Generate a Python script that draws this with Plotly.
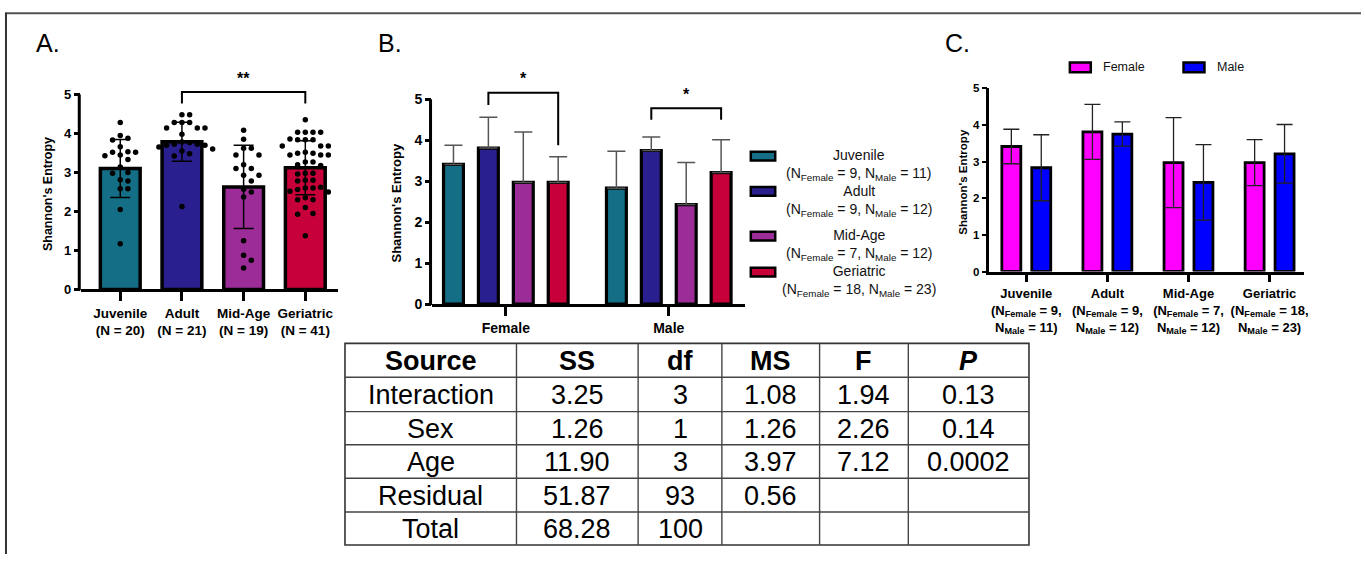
import numpy as np
import plotly.graph_objects as go

W, H = 1365, 562
FONT = "Liberation Sans, Arial, sans-serif"

# ---------------- data ----------------
ages = ["Juvenile", "Adult", "Mid-Age", "Geriatric"]
age_colors = ["#146F86", "#2A1F8E", "#9B2C98", "#C8003A"]
a_n = [20, 21, 19, 41]
a_mean = [3.10, 3.79, 2.63, 3.12]
a_sd = [0.745, 0.50, 1.07, 0.69]

juv_pts = [4.28, 3.95, 3.88, 3.83, 3.66, 3.53, 3.52, 3.52, 3.45, 3.43, 3.33, 3.14,
           3.00, 2.98, 2.81, 2.78, 2.58, 2.58, 2.05, 1.17]
adult_pts = [4.48, 4.48, 4.28, 4.28, 4.28, 4.14, 4.14, 4.14, 3.98, 3.78, 3.76, 3.72,
             3.72, 3.70, 3.70, 3.65, 3.60, 3.55, 3.48, 3.42, 2.13]
mid_pts = [4.08, 3.85, 3.62, 3.62, 3.45, 3.45, 3.20, 3.10, 3.10, 2.93, 2.93, 2.78,
           2.57, 2.50, 2.37, 1.25, 0.88, 0.75, 0.55]
geri_pts = [4.35, 4.03, 4.03, 4.03, 4.03, 3.84, 3.84, 3.84, 3.86, 3.68, 3.68, 3.68,
            3.52, 3.49, 3.45, 3.45, 3.45, 3.49, 3.27, 3.27, 3.20, 3.18, 2.98, 2.98,
            2.96, 2.80, 2.78, 2.80, 2.60, 2.62, 2.60, 2.56, 2.50, 2.52, 2.30, 2.30,
            2.35, 2.10, 1.95, 1.93, 1.38]
a_points = [juv_pts, adult_pts, mid_pts, geri_pts]

sexes = ["Female", "Male"]
sex_colors = ["#FF00FF", "#0000FF"]
n_female = [9, 9, 7, 18]
n_male = [11, 12, 12, 23]
f_mean = [3.41, 3.81, 2.97, 2.97]
f_sd = [0.47, 0.75, 1.23, 0.63]
m_mean = [2.83, 3.75, 2.43, 3.21]
m_sd = [0.90, 0.33, 1.03, 0.80]

table_header = ["Source", "SS", "df", "MS", "F", "P"]
table_source = ["Interaction", "Sex", "Age", "Residual", "Total"]
table_ss = ["3.25", "1.26", "11.90", "51.87", "68.28"]
table_df = ["3", "1", "3", "93", "100"]
table_ms = ["1.08", "1.26", "3.97", "0.56", ""]
table_f = ["1.94", "2.26", "7.12", "", ""]
table_p = ["0.13", "0.14", "0.0002", "", ""]
table_columns = [table_source, table_ss, table_df, table_ms, table_f, table_p]

# ---------------- layout geometry (pixels) ----------------
def px(x):
    return x / W


def py(y):
    return 1 - y / H


A_X0, A_X1, A_Y0, A_PPU, A_TOP = 81, 339, 290.7, 40, 5.6
B_X0, B_X1, B_Y0, B_PPU, B_TOP = 433.3, 746.7, 305.7, 42, 5.6
C_X0, C_X1, C_Y0, C_PPU, C_TOP = 992.3, 1308.3, 272.3, 37.6, 5.0

A_XR = [-0.64, 3.53]
B_XR = [-0.453, 1.465]
C_XR = [-0.455, 3.43]

# B grouping
B_GAP, B_GGAP = 0.143, 0.43
B_SLOT = (1 - B_GAP) / len(ages)
B_W = B_SLOT * (1 - B_GGAP)
C_GAP, C_GGAP = 0.262, 0.366
C_SLOT = (1 - C_GAP) / len(sexes)
C_W = C_SLOT * (1 - C_GGAP)

# table geometry
T_COL_EDGES = [346, 518, 640, 724, 822, 911, 1032]
T_ROW_EDGES = [346, 380.7, 416, 450, 484.3, 519, 552.7]


def b_center(i):
    return -0.5 * B_SLOT * len(ages) + (i + 0.5) * B_SLOT


def c_center(i):
    return -0.5 * C_SLOT * len(sexes) + (i + 0.5) * C_SLOT


def swarm(vals, xppu, yppu, step=7.7, mind=7.2):
    vals = np.asarray(vals, dtype=float)
    order = np.argsort(-vals, kind="stable")
    placed = []
    offs = np.zeros(len(vals))
    cands = [0.0]
    for j in range(1, 12):
        cands += [j * step, -j * step]
    for i in order:
        yv = vals[i] * yppu
        chosen = cands[-1]
        for c in cands:
            if all((c - p0) ** 2 + (yv - p1) ** 2 >= mind ** 2 for p0, p1 in placed):
                chosen = c
                break
        placed.append((chosen, yv))
        offs[i] = chosen / xppu
    return offs


fig = go.Figure()

# ---------------- Panel A ----------------
a_xppu = (A_X1 - A_X0) / (A_XR[1] - A_XR[0])
fig.add_trace(go.Bar(
    x=list(range(len(ages))), y=a_mean, width=0.645,
    marker=dict(color=age_colors, line=dict(color="black", width=3.5)),
    error_y=dict(type="data", array=a_sd, visible=True, color="black",
                 thickness=1.5, width=10),
    xaxis="x", yaxis="y", showlegend=False))
for i, pts in enumerate(a_points):
    offs = swarm(pts, a_xppu, A_PPU)
    fig.add_trace(go.Scatter(
        x=[i + o for o in offs], y=pts, mode="markers",
        marker=dict(color="black", size=5.5), xaxis="x", yaxis="y",
        showlegend=False))
ia, ig = ages.index("Adult"), ages.index("Geriatric")
fig.add_trace(go.Scatter(x=[ia, ia, ig, ig], y=[4.77, 5.06, 5.06, 4.77], mode="lines",
                         line=dict(color="black", width=2), xaxis="x", yaxis="y",
                         showlegend=False))

# ---------------- Panel B ----------------
for i, age in enumerate(ages):
    fig.add_trace(go.Bar(
        x=[0, 1], y=[f_mean[i], m_mean[i]],
        offset=b_center(i) - B_W / 2, width=B_W,
        marker=dict(color=age_colors[i], line=dict(color="black", width=3.2)),
        error_y=dict(type="data", symmetric=False, array=[f_sd[i], m_sd[i]],
                     arrayminus=[0, 0], visible=True, color="#555", thickness=1.5,
                     width=9),
        xaxis="x2", yaxis="y2", showlegend=False))
fig.add_trace(go.Scatter(
    x=[0 + b_center(ia), 0 + b_center(ia), 0 + b_center(ig), 0 + b_center(ig)],
    y=[4.86, 5.16, 5.16, 3.88], mode="lines", line=dict(color="black", width=2),
    xaxis="x2", yaxis="y2", showlegend=False))
fig.add_trace(go.Scatter(
    x=[1 + b_center(ia), 1 + b_center(ia), 1 + b_center(ig), 1 + b_center(ig)],
    y=[4.50, 4.78, 4.78, 4.50], mode="lines", line=dict(color="black", width=2),
    xaxis="x2", yaxis="y2", showlegend=False))

# ---------------- Panel C ----------------
for j, (sx, mean, sd) in enumerate([("Female", f_mean, f_sd), ("Male", m_mean, m_sd)]):
    fig.add_trace(go.Bar(
        x=list(range(len(ages))), y=mean,
        offset=c_center(j) - C_W / 2, width=C_W,
        marker=dict(color=sex_colors[j], line=dict(color="black", width=2.8)),
        error_y=dict(type="data", array=sd, visible=True, color="#222",
                     thickness=1.3, width=8),
        xaxis="x3", yaxis="y3", showlegend=False))

# ---------------- axes ----------------
tickf = lambda s: dict(family=FONT, size=s, color="black", weight="bold")

layout_axes = dict(
    xaxis=dict(domain=[px(A_X0), px(A_X1)], range=A_XR, anchor="y",
               tickvals=list(range(len(ages))),
               ticktext=[f"{a}<br>(N = {n})" for a, n in zip(ages, a_n)],
               showline=True, linecolor="black", linewidth=3, ticks="outside",
               ticklen=9, tickwidth=2.5, tickcolor="black", tickfont=tickf(13.5),
               showgrid=False, zeroline=False),
    yaxis=dict(domain=[py(A_Y0), py(A_Y0 - A_TOP * A_PPU)], range=[0, A_TOP], anchor="x",
               tickvals=[0, 1, 2, 3, 4, 5], showline=False, ticks="outside", ticklen=6,
               tickwidth=2.5, tickcolor="black", tickfont=tickf(13), showgrid=False,
               zeroline=False),
    xaxis2=dict(domain=[px(B_X0), px(B_X1)], range=B_XR, anchor="y2",
                tickvals=[0, 1], ticktext=sexes,
                showline=True, linecolor="black", linewidth=3, ticks="outside",
                ticklen=9, tickwidth=3, tickcolor="black", tickfont=tickf(14),
                showgrid=False, zeroline=False),
    yaxis2=dict(domain=[py(B_Y0), py(B_Y0 - B_TOP * B_PPU)], range=[0, B_TOP], anchor="x2",
                tickvals=[0, 1, 2, 3, 4, 5], showline=False, ticks="outside", ticklen=6,
                tickwidth=2.5, tickcolor="black", tickfont=tickf(14), showgrid=False,
                zeroline=False),
    xaxis3=dict(domain=[px(C_X0), px(C_X1)], range=C_XR, anchor="y3",
                tickvals=list(range(len(ages))),
                ticktext=[f"{a}<br>(N<sub>Female</sub> = {nf},<br>N<sub>Male</sub> = {nm})"
                          for a, nf, nm in zip(ages, n_female, n_male)],
                showline=True, linecolor="black", linewidth=2.5, ticks="outside",
                ticklen=8, tickwidth=2.5, tickcolor="black", tickfont=tickf(13),
                showgrid=False, zeroline=False),
    yaxis3=dict(domain=[py(C_Y0), py(C_Y0 - C_TOP * C_PPU)], range=[0, C_TOP], anchor="x3",
                tickvals=[0, 1, 2, 3, 4, 5], showline=True, linecolor="black",
                linewidth=2.5, ticks="outside", ticklen=5, tickwidth=2.2,
                tickcolor="black", tickfont=tickf(11.5), showgrid=False, zeroline=False),
)

shapes = []
for xr, yr, x0, x1, top, lw in [("x domain", "y domain", A_X0, A_X1, A_TOP, 3),
                                ("x2 domain", "y2 domain", B_X0, B_X1, B_TOP, 3)]:
    dx = -(lw / 2) / (x1 - x0)
    shapes.append(dict(type="line", xref=xr, yref=yr, x0=dx, x1=dx, y0=-0.004,
                       y1=5 / top, line=dict(color="black", width=lw)))
# frame
shapes.append(dict(type="line", xref="paper", yref="paper", x0=px(5), x1=1,
                   y0=py(7.5), y1=py(7.5), line=dict(color="#555", width=2)))
shapes.append(dict(type="line", xref="paper", yref="paper", x0=px(6), x1=px(6),
                   y0=py(7), y1=0, line=dict(color="#333", width=2)))

annotations = []
for lab, x in [("A.", 34), ("B.", 377), ("C.", 946)]:
    annotations.append(dict(text=lab, x=px(x), y=py(38), xref="paper", yref="paper",
                            xanchor="left", yanchor="middle", showarrow=False,
                            font=dict(family=FONT, size=25, color="black")))
for x, y, s in [(48, 193, 12.5), (398, 201.7, 13), (965, 180, 11.5)]:
    annotations.append(dict(text="Shannon's Entropy", x=px(x), y=py(y), xref="paper",
                            yref="paper", textangle=-90, showarrow=False,
                            xanchor="center", yanchor="middle",
                            font=dict(family=FONT, size=s, color="black", weight="bold")))
annotations.append(dict(text="**", x=(ia + ig) / 2, y=5.40, xref="x", yref="y",
                        showarrow=False, yanchor="middle",
                        font=dict(family=FONT, size=16, color="black", weight="bold")))
annotations.append(dict(text="*", x=0 + (b_center(ia) + b_center(ig)) / 2, y=5.51,
                        xref="x2", yref="y2", showarrow=False, yanchor="middle",
                        font=dict(family=FONT, size=16, color="black", weight="bold")))
annotations.append(dict(text="*", x=1 + (b_center(ia) + b_center(ig)) / 2, y=5.11,
                        xref="x2", yref="y2", showarrow=False, yanchor="middle",
                        font=dict(family=FONT, size=16, color="black", weight="bold")))

# legend for B
b_leg_rows = [154, 190, 236, 273]
for i, age in enumerate(ages):
    yc = b_leg_rows[i]
    shapes.append(dict(type="rect", xref="paper", yref="paper", x0=px(753), x1=px(777.5),
                       y0=py(yc + 4.5), y1=py(yc - 4.5), fillcolor=age_colors[i],
                       line=dict(color="black", width=2.5)))
    annotations.append(dict(
        text=f"{age}<br>(N<sub>Female</sub> = {n_female[i]}, N<sub>Male</sub> = {n_male[i]})",
        x=px(862), y=py(yc - 11), xref="paper", yref="paper", xanchor="center",
        yanchor="top", showarrow=False, align="center",
        font=dict(family=FONT, size=14, color="#111")))

# legend for C
for j, (sx, x0, tx) in enumerate(zip(sexes, [1073, 1187], [1104, 1219])):
    shapes.append(dict(type="rect", xref="paper", yref="paper", x0=px(x0), x1=px(x0 + 21),
                       y0=py(68), y1=py(58), fillcolor=sex_colors[j],
                       line=dict(color="black", width=2.5)))
    annotations.append(dict(text=sx, x=px(tx), y=py(63), xref="paper", yref="paper",
                            xanchor="left", yanchor="middle", showarrow=False,
                            font=dict(family=FONT, size=12.5, color="#111")))

# ---------------- ANOVA table (grid + cell texts) ----------------
tx0, tx1 = T_COL_EDGES[0], T_COL_EDGES[-1]
ty0, ty1 = T_ROW_EDGES[0], T_ROW_EDGES[-1]
shapes.append(dict(type="rect", xref="paper", yref="paper", x0=px(tx0), x1=px(tx1),
                   y0=py(ty1), y1=py(ty0), fillcolor="white",
                   line=dict(color="#333", width=1.6), layer="below"))
for xe in T_COL_EDGES[1:-1]:
    shapes.append(dict(type="line", xref="paper", yref="paper", x0=px(xe), x1=px(xe),
                       y0=py(ty1), y1=py(ty0), line=dict(color="#444", width=1.4)))
for ye in T_ROW_EDGES[1:-1]:
    shapes.append(dict(type="line", xref="paper", yref="paper", x0=px(tx0), x1=px(tx1),
                       y0=py(ye), y1=py(ye), line=dict(color="#444", width=1.4)))
for c, head in enumerate(table_header):
    xc = (T_COL_EDGES[c] + T_COL_EDGES[c + 1]) / 2
    yc = (T_ROW_EDGES[0] + T_ROW_EDGES[1]) / 2
    txt = f"<b><i>{head}</i></b>" if head == "P" else f"<b>{head}</b>"
    annotations.append(dict(text=txt, x=px(xc), y=py(yc + 1), xref="paper", yref="paper",
                            xanchor="center", yanchor="middle", showarrow=False,
                            font=dict(family=FONT, size=27, color="black")))
    for r, val in enumerate(table_columns[c]):
        if val == "":
            continue
        yc = (T_ROW_EDGES[r + 1] + T_ROW_EDGES[r + 2]) / 2
        annotations.append(dict(text=val, x=px(xc), y=py(yc + 1), xref="paper",
                                yref="paper", xanchor="center", yanchor="middle",
                                showarrow=False,
                                font=dict(family=FONT, size=27, color="black")))

fig.update_layout(
    width=W, height=H, margin=dict(l=0, r=0, t=0, b=0),
    paper_bgcolor="white", plot_bgcolor="white", showlegend=False,
    barmode="group", font=dict(family=FONT, color="black"),
    shapes=shapes, annotations=annotations, **layout_axes)

fig.write_html("out.html")
